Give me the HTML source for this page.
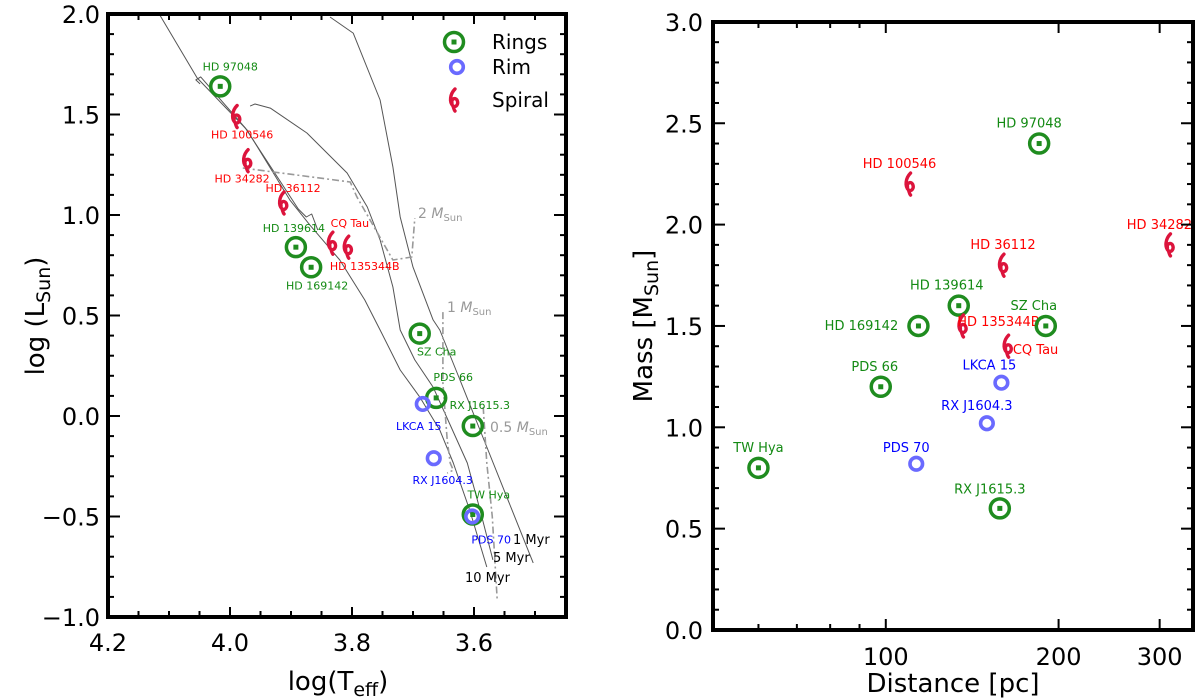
<!DOCTYPE html>
<html><head><meta charset="utf-8"><style>
body{margin:0;background:#fff}
svg{display:block;font-family:"DejaVu Sans","Liberation Sans",sans-serif}
</style></head><body>
<svg id="fig" width="1200" height="700" viewBox="0 0 1200 700">
<g id="left"></g>
<g id="right"></g>
</svg>
<script>
// ---------- Left panel data (HR diagram) ----------
const hrNames = ["HD 97048","HD 100546","HD 34282","HD 36112","HD 139614","HD 169142","CQ Tau","HD 135344B","SZ Cha","PDS 66","LKCA 15","RX J1615.3","RX J1604.3","TW Hya","PDS 70"];
const hrTypes = ["ring","spiral","spiral","spiral","ring","ring","spiral","spiral","ring","ring","rim","ring","rim","ring","rim"];
const hrLogT = [4.016,3.990,3.972,3.913,3.892,3.867,3.833,3.807,3.689,3.662,3.684,3.602,3.666,3.602,3.603];
const hrLogL = [1.64,1.49,1.27,1.06,0.84,0.74,0.86,0.84,0.41,0.09,0.06,-0.05,-0.21,-0.49,-0.50];
const hrLabelDx = [10,6,-5,10,-2,6,18,17,17,17,-4,7,9,16,19];
const hrLabelDy = [-20,18,18,-15,-19,18,-20,19,18,-21,22,-21,22,-20,23];
const xTicksL = [4.2,4.0,3.8,3.6];
const yTicksL = [2.0,1.5,1.0,0.5,0.0,-0.5,-1.0];
// model curves (logT, logL)
const iso10T=[4.116,4.054,3.972,3.902,3.869,3.820,3.779,3.754,3.721,3.689,3.656,3.634,3.607,3.579];
const iso10L=[2.00,1.682,1.423,1.075,0.950,0.776,0.577,0.428,0.229,0.095,-0.070,-0.234,-0.468,-0.751];
const isoHookT=[4.049,4.056,4.048,3.975,3.888,3.875,3.866,3.856];
const isoHookL=[1.652,1.672,1.687,1.433,1.030,0.990,1.005,0.925];
const iso5T=[3.967,3.959,3.934,3.874,3.808,3.775,3.754,3.733,3.721,3.697,3.667,3.639,3.611,3.590,3.569];
const iso5L=[1.542,1.552,1.532,1.408,1.209,1.040,0.876,0.642,0.428,0.279,0.144,-0.045,-0.234,-0.468,-0.716];
const iso1T=[3.836,3.798,3.754,3.733,3.721,3.700,3.667,3.656,3.623,3.579,3.541,3.503];
const iso1L=[1.985,1.905,1.572,1.239,0.990,0.741,0.478,0.428,0.179,-0.154,-0.443,-0.731];
const m2T=[3.979,3.803,3.792,3.733,3.702,3.697];
const m2L=[1.234,1.164,1.090,0.776,0.791,0.985];
const m1T=[3.651,3.651,3.644,3.639,3.634,3.644];
const m1L=[0.517,0.164,-0.119,-0.234,-0.269,-0.284];
const m05T=[3.585,3.579,3.570,3.562];
const m05L=[0.045,-0.234,-0.502,-0.915];

// ---------- Right panel data ----------
const mdNames = hrNames;
const mdTypes = hrTypes;
const mdDist = [185,110,312,160,134,114,163,136,190,98,159,158,150,60,113];
const mdMass = [2.40,2.20,1.90,1.80,1.60,1.50,1.40,1.50,1.50,1.20,1.22,0.60,1.02,0.80,0.82];
const mdLabelDx = [-10,-10,-10,0,-12,-57,28,36,-12,-6,-12,-10,-10,0,-10];
const mdLabelDy = [-20,-20,-20,-20,-20,0,4,-4,-20,-20,-17,-19,-17,-20,-16];
const xTicksR = [100,200,300];
const xMinorR = [60,70,80,90];
const yTicksR = [0.0,0.5,1.0,1.5,2.0,2.5,3.0];

const NS="http://www.w3.org/2000/svg";
function mk(tag,attrs,parent){const e=document.createElementNS(NS,tag);for(const k in attrs)e.setAttribute(k,attrs[k]);parent.appendChild(e);return e;}
const colors={ring:"#1f8c1f",rim:"#6a6aff",spiral:"#dc143c"};
const labelColors={ring:"#138a13",rim:"#0000ff",spiral:"#ff0000"};

function drawMarker(type,x,y,g){
  if(type==="ring"){
    mk("circle",{cx:x,cy:y,r:9.5,fill:"none",stroke:colors.ring,"stroke-width":3.5},g);
    mk("rect",{x:x-2.5,y:y-2.5,width:5,height:5,fill:colors.ring},g);
  } else if(type==="rim"){
    mk("circle",{cx:x,cy:y,r:6.3,fill:"none",stroke:colors.rim,"stroke-width":3.6},g);
  } else {
    mk("path",{d:`M${x+1},${y-11} C${x-4},${y-6} ${x-5},${y+2} ${x-1},${y+6} C${x+2},${y+8} ${x+5},${y+4} ${x+3},${y} C${x+1},${y-3} ${x-3},${y-1} ${x-2},${y+3} M${x-1},${y+6} C${x},${y+9} ${x},${y+10} ${x+1},${y+11}`,fill:"none",stroke:colors.spiral,"stroke-width":3.4,"stroke-linecap":"round"},g);
  }
}

// ===== LEFT =====
const L=document.getElementById('left');
const lx0=108,lx1=566,ly0=14,ly1=617;
const lxs=v=>lx0+(4.2-v)*610;
const lys=v=>ly0+(2.0-v)*201;
function polyL(T,Lv,dash,name){
  let d=T.map((t,i)=>(i?"L":"M")+lxs(t).toFixed(1)+","+lys(Lv[i]).toFixed(1)).join(" ");
  const p=mk("path",{d:d,fill:"none",stroke:dash?"#999":"#555","stroke-width":dash?1.6:1,"stroke-dasharray":dash?"7,3,2,3":"none","stroke-linejoin":"round"},L);
  
  
}
polyL(iso10T,iso10L,false,"isochrone-10myr");
polyL(isoHookT,isoHookL,false,"isochrone-hook");
polyL(iso5T,iso5L,false,"isochrone-5myr");
polyL(iso1T,iso1L,false,"isochrone-1myr");
polyL(m2T,m2L,true,"track-2msun");
polyL(m1T,m1L,true,"track-1msun");
polyL(m05T,m05L,true,"track-0.5msun");
function txt(parent,x,y,s,attrs,name){const t=mk("text",Object.assign({x:x,y:y},attrs),parent);t.innerHTML=s;return t;}
const gl={fill:"#999","font-size":14};
txt(L,418,218,'2 <tspan font-style="italic">M</tspan><tspan font-size="10" dy="3">Sun</tspan>',gl,"track-label-2msun");
txt(L,447,312,'1 <tspan font-style="italic">M</tspan><tspan font-size="10" dy="3">Sun</tspan>',gl,"track-label-1msun");
txt(L,490,432,'0.5 <tspan font-style="italic">M</tspan><tspan font-size="10" dy="3">Sun</tspan>',gl,"track-label-0.5msun");
txt(L,513,544,'1 Myr',{"font-size":13,fill:"#000"},"age-label-1myr");
txt(L,493,562,'5 Myr',{"font-size":13,fill:"#000"},"age-label-5myr");
txt(L,465,582,'10 Myr',{"font-size":13,fill:"#000"},"age-label-10myr");
hrNames.forEach((n,i)=>{
  const g=mk("g",{},L);
  
  
  const x=lxs(hrLogT[i]),y=lys(hrLogL[i]);
  drawMarker(hrTypes[i],x,y,g);
  const t=mk("text",{x:x+hrLabelDx[i],y:y+hrLabelDy[i]+4,"text-anchor":"middle","font-size":11,fill:labelColors[hrTypes[i]]},g);
  t.textContent=n;
});
// legend
const lg=mk("g",{},L);
[["ring","Rings",42],["rim","Rim",67],["spiral","Spiral",100]].forEach(([ty,lab,y])=>{
  const e=mk("g",{},lg);
  
  
  drawMarker(ty,ty==="rim"?457:454,y,e);
  const t=mk("text",{x:492,y:y+7,"font-size":20,fill:"#000"},e);t.textContent=lab;
});
// frame & ticks
mk("rect",{x:lx0,y:ly0,width:lx1-lx0,height:ly1-ly0,fill:"none",stroke:"#000","stroke-width":4},L);
for(let v=4.2;v>3.449;v-=0.05){const x=lxs(v);const maj=Math.abs(Math.round(v*5)-v*5)<1e-6;const len=maj?10:6;
  mk("line",{x1:x,y1:ly1,x2:x,y2:ly1-len,stroke:"#000","stroke-width":2},L);
  mk("line",{x1:x,y1:ly0,x2:x,y2:ly0+len,stroke:"#000","stroke-width":2},L);}
for(let v=2.0;v>-1.001;v-=0.1){const y=lys(v);const maj=Math.abs(Math.round(v*2)-v*2)<1e-6;const len=maj?12:6;
  mk("line",{x1:lx0,y1:y,x2:lx0+len,y2:y,stroke:"#000","stroke-width":2},L);
  mk("line",{x1:lx1,y1:y,x2:lx1-len,y2:y,stroke:"#000","stroke-width":2},L);}
xTicksL.forEach(v=>txt(L,lxs(v),651,v.toFixed(1),{"text-anchor":"middle","font-size":24,fill:"#000"},"x-tick-label"));
yTicksL.forEach(v=>txt(L,100,lys(v)+9,(v<0?"\u2212":"")+Math.abs(v).toFixed(1),{"text-anchor":"end","font-size":24,fill:"#000"},"y-tick-label"));
txt(L,338,690,'log(T<tspan font-size="19" dy="6">eff</tspan><tspan dy="-6">)</tspan>',{"text-anchor":"middle","font-size":26,fill:"#000"},"x-axis-title");
txt(L,0,0,'log (L<tspan font-size="19" dy="6">Sun</tspan><tspan dy="-6">)</tspan>',{"text-anchor":"middle","font-size":26,fill:"#000",transform:"translate(44,316) rotate(-90)"},"y-axis-title");

// ===== RIGHT =====
const R=document.getElementById('right');
const rx0=713,rx1=1193,ry0=22,ry1=630;
const rxs=v=>rx0+Math.log10(v/50)*574;
const rys=v=>ry1-v*202.7;
mdNames.forEach((n,i)=>{
  const g=mk("g",{},R);
  
  
  const x=rxs(mdDist[i]),y=rys(mdMass[i]);
  drawMarker(mdTypes[i],x,y,g);
  const t=mk("text",{x:x+mdLabelDx[i],y:y+mdLabelDy[i]+4,"text-anchor":"middle","font-size":13,fill:labelColors[mdTypes[i]]},g);
  t.textContent=n;
});
mk("rect",{x:rx0,y:ry0,width:rx1-rx0,height:ry1-ry0,fill:"none",stroke:"#000","stroke-width":4},R);
xTicksR.forEach(v=>{const x=rxs(v);
  mk("line",{x1:x,y1:ry1,x2:x,y2:ry1-11,stroke:"#000","stroke-width":2},R);
  mk("line",{x1:x,y1:ry0,x2:x,y2:ry0+11,stroke:"#000","stroke-width":2},R);
  txt(R,x,665,String(v),{"text-anchor":"middle","font-size":24,fill:"#000"},"x-tick-label");});
xMinorR.forEach(v=>{const x=rxs(v);
  mk("line",{x1:x,y1:ry1,x2:x,y2:ry1-6,stroke:"#000","stroke-width":2},R);
  mk("line",{x1:x,y1:ry0,x2:x,y2:ry0+6,stroke:"#000","stroke-width":2},R);});
for(let v=0;v<3.001;v+=0.1){const y=rys(v);const maj=Math.abs(Math.round(v*2)-v*2)<1e-6;const len=maj?12:6;
  mk("line",{x1:rx0,y1:y,x2:rx0+len,y2:y,stroke:"#000","stroke-width":2},R);
  mk("line",{x1:rx1,y1:y,x2:rx1-len,y2:y,stroke:"#000","stroke-width":2},R);}
yTicksR.forEach(v=>txt(R,703,rys(v)+9,v.toFixed(1),{"text-anchor":"end","font-size":24,fill:"#000"},"y-tick-label"));
txt(R,953,692,'Distance [pc]',{"text-anchor":"middle","font-size":26,fill:"#000"},"x-axis-title");
txt(R,0,0,'Mass [M<tspan font-size="19" dy="6">Sun</tspan><tspan dy="-6">]</tspan>',{"text-anchor":"middle","font-size":26,fill:"#000",transform:"translate(652,326) rotate(-90)"},"y-axis-title");
</script>
</body></html>
